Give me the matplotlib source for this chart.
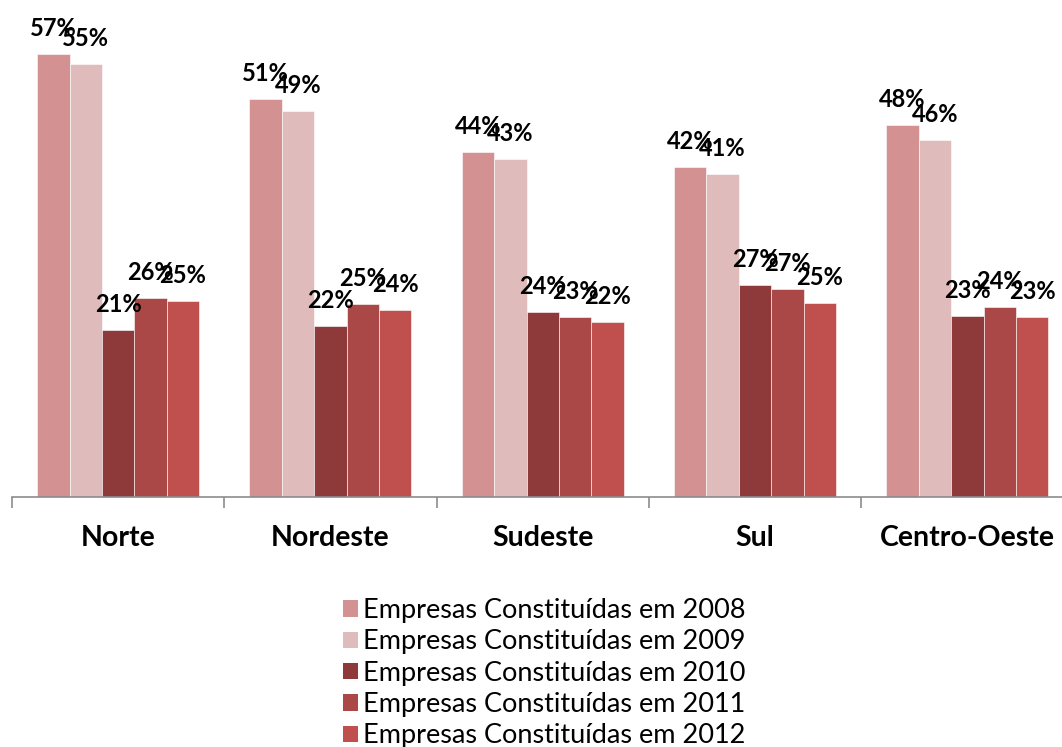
import numpy as np
import matplotlib
matplotlib.use("Agg")
import matplotlib.pyplot as plt
from matplotlib.patches import Patch

# ── Data ─────────────────────────────────────────────────────
regions = ["Norte", "Nordeste", "Sudeste", "Sul", "Centro-Oeste"]
years = ["2008", "2009", "2010", "2011", "2012"]

v2008 = [56.6, 50.9, 44.1, 42.2, 47.6]
v2009 = [55.4, 49.4, 43.2, 41.3, 45.7]
v2010 = [21.3, 21.9, 23.7, 27.1, 23.1]
v2011 = [25.5, 24.7, 23.0, 26.6, 24.3]
v2012 = [25.0, 23.9, 22.4, 24.8, 23.0]
series = [v2008, v2009, v2010, v2011, v2012]

colors = ["#D39191", "#E0BBBB", "#8F3A3A", "#A94846", "#C0504D"]

plt.rcParams["font.family"] = ["Lato", "DejaVu Sans"]

W, H = 1062, 747
fig = plt.figure(figsize=(W / 100, H / 100), dpi=100)

# axes in pixel terms: baseline at y=497, left at x=12
px_per_pct = 7.82
ymax = 60
ax = fig.add_axes([12 / W, (H - 497) / H, (W - 12) / W, ymax * px_per_pct / H])

cat_px = 212.3
x = np.arange(len(regions))
bw = 0.1526
n = len(series)

for j, (vals, c) in enumerate(zip(series, colors)):
    pos = x + (j - (n - 1) / 2) * bw
    ax.bar(pos, vals, width=bw, color=c, edgecolor="white", linewidth=0.4,
           label=f"Empresas Constituídas em {years[j]}")
    for px, v in zip(pos, vals):
        ax.annotate(f"{v:.0f}%", xy=(px, v), xytext=(0, 13),
                    textcoords="offset points", ha="center", va="baseline",
                    fontsize=17, fontweight="bold", color="black",
                    annotation_clip=False)

ax.set_xlim(-0.5, -0.5 + (W - 12) / cat_px)
ax.set_ylim(0, ymax)

for s in ["top", "right", "left"]:
    ax.spines[s].set_visible(False)
ax.spines["bottom"].set_color("#8C8C8C")
ax.spines["bottom"].set_linewidth(1.2)
ax.set_yticks([])

# boundary ticks between categories
ax.set_xticks(np.arange(-0.5, len(regions) - 0.5, 1.0))
ax.set_xticklabels([])
ax.tick_params(axis="x", length=8, width=1.2, color="#8C8C8C", direction="out")

for i, r in enumerate(regions):
    ax.text(i, -5.2, r, ha="center", va="center", fontsize=20.5,
            fontweight="bold", transform=ax.transData, clip_on=False)

handles = [Patch(facecolor=c, edgecolor="none") for c in colors]
labels = [f"Empresas Constituídas em {y}" for y in years]
fig.legend(handles, labels, loc="upper left", bbox_to_anchor=(343 / W, 1 - 598 / H),
           frameon=False, fontsize=19.5, handlelength=0.55, handleheight=0.55,
           handletextpad=0.2, labelspacing=0.235, borderpad=0, borderaxespad=0)

fig.savefig("out.png", dpi=100)
